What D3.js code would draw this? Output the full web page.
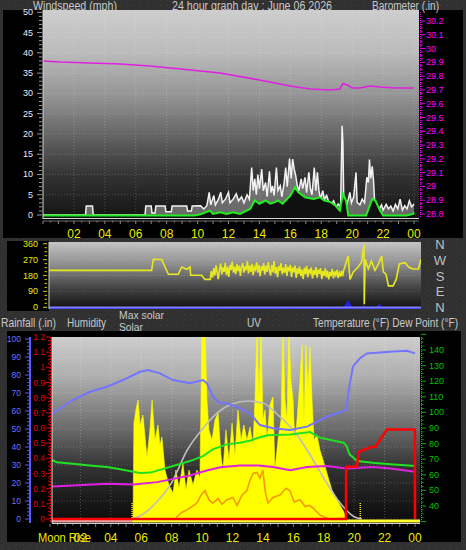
<!DOCTYPE html>
<html><head><meta charset="utf-8">
<script src="https://cdn.jsdelivr.net/npm/d3@7"></script>
<style>body{margin:0;background:#2f2f2f}svg{display:block}</style>
</head><body><svg id="c" width="466" height="550"></svg>
<script>
// ---------------- DATA ----------------
const hourLabels = ["02","04","06","08","10","12","14","16","18","20","22","00"];
const hourValues = [2,4,6,8,10,12,14,16,18,20,22,24];
const windTicks = [0,5,10,15,20,25,30,35,40,45,50];
const baroTicks = [28.8,28.9,29.0,29.1,29.2,29.3,29.4,29.5,29.6,29.7,29.8,29.9,30.0,30.1,30.2];
const baroLabels = ["28.8","28.9","29","29.1","29.2","29.3","29.4","29.5","29.6","29.7","29.8","29.9","30","30.1","30.2"];
const dirTicks = [0,90,180,270,360];
const compass = ["N","E","S","W","N"];
const humTicks = [0,10,20,30,40,50,60,70,80,90,100];
const rainTicks = [0,0.1,0.2,0.3,0.4,0.5,0.6,0.7,0.8,0.9,1,1.1,1.2];
const rainLabels = ["0","0.1","0.2","0.3","0.4","0.5","0.6","0.7","0.8","0.9","1","1.1","1.2"];
const tempTicks = [40,50,60,70,80,90,100,110,120,130,140];

// barometer (inHg) [hour, value]
const baro = [[0,29.91],[1.1,29.903],[5.0,29.888],[6.9,29.874],[8.9,29.852],[11.45,29.823],[14.0,29.772],[16.0,29.728],[17.3,29.707],[18.6,29.70],[19.2,29.707],[19.4,29.745],[19.7,29.736],[20.0,29.714],[20.5,29.714],[21.15,29.728],[21.8,29.721],[22.8,29.714],[24,29.714]];

// wind gust (mph)
const gust = [[0,0],[2.75,0],[2.8,2.2],[3.2,2.2],[3.25,0],[6.6,0],[6.65,2.2],[7.0,2.2],[7.05,0.5],[7.25,0.5],[7.3,2.2],[7.9,2.2],[7.95,0.8],[8.3,0.8],[8.35,2.2],[9.3,2.2],[9.35,1.0],[9.6,1.0],[9.65,2.2],[10.2,2.3],[10.4,1.5],[10.6,2.3],[10.75,5.6],[10.85,2.5],[11.05,4.8],[11.15,2.5],[11.35,3.9],[11.5,5.6],[11.6,3.0],[11.8,3.9],[12.0,5.6],[12.1,3.0],[12.3,3.9],[12.5,5.2],[12.65,3.5],[12.85,4.5],[13.0,3.0],[13.2,5.0],[13.35,3.9],[13.5,11.7],[13.6,6.0],[13.7,8.9],[13.8,5.0],[13.9,10.0],[14.0,6.5],[14.15,11.3],[14.25,6.0],[14.4,8.0],[14.5,4.5],[14.65,10.8],[14.75,5.5],[14.85,7.2],[14.95,4.8],[15.1,11.7],[15.2,6.0],[15.35,7.2],[15.45,4.5],[15.6,8.0],[15.7,11.7],[15.8,7.0],[15.95,13.9],[16.05,9.0],[16.15,13.8],[16.25,11.3],[16.35,9.7],[16.45,7.2],[16.55,6.0],[16.7,8.9],[16.8,6.5],[16.95,9.3],[17.05,5.5],[17.2,10.5],[17.3,6.4],[17.4,5.0],[17.55,11.7],[17.65,6.0],[17.75,10.5],[17.85,6.0],[17.95,4.0],[18.1,6.0],[18.2,3.9],[18.35,4.8],[18.5,3.0],[18.65,2.7],[18.8,3.5],[18.95,2.0],[19.1,2.7],[19.25,2.0],[19.35,22.0],[19.4,17.9],[19.45,5.0],[19.55,3.9],[19.65,2.5],[19.75,3.9],[19.85,5.6],[19.95,3.0],[20.1,4.5],[20.25,10.5],[20.32,3.1],[20.5,2.5],[20.65,3.9],[20.8,3.0],[20.95,9.3],[21.05,8.0],[21.12,13.7],[21.2,9.0],[21.3,12.0],[21.38,8.5],[21.45,3.5],[21.6,2.3],[21.75,1.5],[21.9,2.5],[22.0,1.2],[22.2,2.6],[22.35,1.5],[22.5,2.2],[22.65,1.0],[22.8,2.6],[22.95,1.5],[23.1,3.9],[23.25,1.2],[23.4,2.3],[23.55,1.5],[23.7,3.5],[23.85,2.0],[24,2.7]];

// wind average (mph)
const windAvg = [[0,0],[9.8,0],[10.2,0.3],[10.8,1.2],[11.0,0.4],[11.45,0.8],[11.9,0.4],[12.3,0.8],[12.75,0.4],[13.4,1.6],[13.7,3.7],[14.0,2.9],[14.4,3.7],[14.7,2.9],[15.0,3.3],[15.2,3.7],[15.5,2.9],[16.0,4.9],[16.3,7.0],[16.5,5.8],[16.95,4.5],[17.5,4.1],[17.9,4.5],[18.2,3.7],[18.6,3.3],[18.9,2.5],[19.2,1.2],[19.4,5.3],[19.6,3.7],[19.75,0],[20.9,0],[21.3,4.1],[21.5,3.7],[21.8,1.2],[22.0,0],[23.5,0],[23.95,0.4],[24,0.8]];

// wind direction (degrees)
const windDir = [[0,209],[6.62,209],[6.73,272],[7.27,271],[7.7,187],[8.34,187],[8.56,228],[8.88,215],[9.1,228],[9.14,181],[9.85,181],[10.06,158],[10.4,158],
[10.47,205],[10.55,168],[10.63,222],[10.7,180],[10.78,238],[10.86,190],[10.92,160],[11.0,214],[11.08,248],[11.15,186],[11.22,226],[11.3,200],[11.37,252],[11.45,182],[11.52,230],[11.6,172],[11.68,240],[11.75,212],[11.82,258],[11.9,196],[11.97,230],[12.05,188],[12.12,244],[12.2,205],[12.28,236],[12.35,178],[12.42,226],[12.5,250],[12.57,196],[12.65,232],[12.72,210],[12.8,262],[12.87,192],[12.95,238],[13.02,200],[13.1,246],[13.17,182],[13.25,228],[13.32,214],[13.4,254],[13.47,196],[13.55,240],[13.62,176],[13.7,232],[13.77,208],[13.85,250],[13.92,186],[14.0,236],[14.07,200],[14.15,256],[14.22,212],[14.3,180],[14.37,240],[14.45,198],[14.52,262],[14.6,190],[14.67,228],[14.75,170],[14.82,234],[14.9,206],[14.97,250],[15.05,188],[15.12,224],[15.2,196],[15.27,244],[15.35,178],[15.42,230],[15.5,204],[15.57,240],[15.65,172],[15.72,226],[15.8,198],[15.87,236],[15.95,166],[16.02,222],[16.1,190],[16.17,232],[16.25,176],[16.32,214],[16.4,160],[16.47,224],[16.55,188],[16.62,234],[16.7,170],[16.77,216],[16.85,196],[16.92,226],[17.0,164],[17.07,210],[17.15,184],[17.22,228],[17.3,168],[17.37,214],[17.45,190],[17.52,222],[17.6,160],[17.67,206],[17.75,178],[17.82,220],[17.9,170],[17.97,208],[18.05,158],[18.12,200],[18.2,176],[18.27,218],[18.35,164],[18.42,204],[18.5,182],[18.57,212],[18.65,166],[18.72,196],[18.8,174],[18.87,208],[18.94,176],
[19.0,205],[19.3,290],[19.42,158],[19.63,200],[19.95,228],[20.17,256],[20.32,357],[20.34,17],[20.4,272],[20.6,217],[20.8,262],[21.03,209],[21.25,245],[21.46,290],[21.57,200],[21.74,187],[21.9,121],[22.2,121],[22.4,158],[22.6,245],[22.97,253],[23.2,228],[23.5,217],[23.83,217],[24,272]];
const dirSpeed = [[0,0],[19.0,0],[19.15,4],[19.3,7],[19.45,3],[19.6,0],[20.2,0],[20.3,3],[20.4,0],[21.1,0],[21.2,2],[21.35,3],[21.5,0],[24,0]];

// bottom panel
const humidity = [[0,57.8],[1.51,66.1],[2.63,70.7],[3.75,73.5],[4.8,77.2],[5.92,81.8],[6.44,82.8],[7.23,80.9],[8.09,77.2],[9.2,75.4],[10.06,77.2],[10.32,75.4],[10.72,68],[11.18,64.3],[11.64,64.3],[12.49,61.5],[13.15,58.7],[13.8,52.2],[14.66,50.4],[15.78,49.4],[16.9,51.3],[18.2,56.8],[19.46,60.6],[19.72,75.4],[19.92,84.6],[20.38,89.3],[20.84,92],[22.35,92.9],[23.47,93.5],[24,92]];
const temperature = [[0,69.9],[0.46,68.1],[1.5,67.1],[2.6,66],[3.75,65],[4.8,63.2],[5.9,61.1],[6.6,61.4],[8.1,65.6],[9.2,68.8],[10.06,72],[10.7,76.3],[11.6,79.5],[12.5,80.6],[13.2,82],[13.7,83.8],[14.3,85.3],[15.8,85.9],[17.1,87.4],[17.75,83.8],[19.3,80.6],[19.5,78.4],[19.7,73.1],[20.2,68.8],[21.2,67.7],[22.4,66.7],[24,65.6]];
const dewPoint = [[0,52.4],[1.5,53.2],[3.75,54.3],[5.5,53.8],[7.05,55.3],[8.1,57.4],[9.2,59.6],[10.3,62.8],[11.2,64.9],[12.5,66],[13.7,66],[14.66,65],[15.8,63],[16.9,65],[18.2,65.6],[19.5,64.1],[21.2,65],[22.4,64.1],[24,62]];
const rainfall = [[0,0],[19.46,0],[19.47,0.344],[20.18,0.344],[20.3,0.443],[20.7,0.46],[21.2,0.476],[21.4,0.476],[22.15,0.59],[23.99,0.59],[24,0]];
const maxSolar = [[5.4,0],[6,25],[7,110],[8,240],[9,450],[10,590],[11,700],[12,760],[13,778],[14,765],[15,685],[16,585],[17,440],[18,270],[19,115],[20,15],[20.5,0]];
const solar = [[5.46,0],[5.52,633],[5.65,719],[5.79,785],[5.92,620],[6.11,686],[6.38,409],[6.57,587],[6.71,785],[6.9,521],[7.1,620],[7.23,488],[7.36,541],[7.56,323],[7.82,224],[8.09,171],[8.28,323],[8.48,204],[8.74,369],[8.94,191],[9.14,323],[9.4,224],[9.66,323],[9.86,270],[9.99,1250],[10.19,1250],[10.32,785],[10.45,587],[10.65,521],[10.85,653],[11.05,699],[11.24,422],[11.37,323],[11.57,587],[11.77,389],[11.97,633],[12.16,422],[12.36,719],[12.56,521],[12.75,620],[12.95,521],[13.15,607],[13.35,488],[13.48,785],[13.61,1250],[13.74,790],[13.87,1250],[14.0,653],[14.14,719],[14.27,521],[14.46,752],[14.66,804],[14.79,323],[14.99,521],[15.19,653],[15.32,1250],[15.45,785],[15.58,653],[15.71,1250],[15.84,916],[15.98,785],[16.1,521],[16.24,653],[16.44,916],[16.57,1147],[16.7,653],[16.83,1147],[16.96,850],[17.09,1134],[17.23,785],[17.36,521],[17.55,554],[17.75,455],[17.95,389],[18.15,323],[18.34,257],[18.54,191],[18.8,138],[19.07,92],[19.33,46],[19.46,0]];
const uv = [[8.28,0],[8.35,0.2],[8.68,0.6],[9.0,0.8],[9.34,1.1],[9.66,1.4],[9.93,2.1],[10.19,2.5],[10.45,1.7],[10.7,1.4],[11.05,1.8],[11.3,1.3],[11.64,1.7],[12.03,1.9],[12.3,1.2],[12.62,2.1],[12.95,2.5],[13.15,3.4],[13.35,4.0],[13.61,4.1],[13.8,3.6],[14.0,4.3],[14.14,2.5],[14.33,1.4],[14.66,1.9],[15.12,2.1],[15.52,2.7],[15.78,2.5],[16.04,1.5],[16.44,1.7],[16.77,1.1],[17.09,1.2],[17.42,0.8],[17.75,0.35],[18.15,0.1],[18.4,0]];
const sunEvents = [5.4, 20.4];

// ---------------- DRAW ----------------
const svg = d3.select("#c");
const defs = svg.append("defs");
const pat = defs.append("pattern").attr("id","noise").attr("width",7).attr("height",5).attr("patternUnits","userSpaceOnUse");
pat.append("rect").attr("width",7).attr("height",5).attr("fill","#303030");
[[1,1,"#3c3838"],[4,3,"#35353f"],[6,0,"#383e38"],[2,4,"#3d3d3d"]].forEach(p=>pat.append("rect").attr("x",p[0]).attr("y",p[1]).attr("width",1).attr("height",1).attr("fill",p[2]));
function grad(id, stops){
  const g = defs.append("linearGradient").attr("id",id).attr("x1",0).attr("x2",0).attr("y1",0).attr("y2",1);
  stops.forEach(s=>g.append("stop").attr("offset",s[0]).attr("stop-color",s[1]));
}
grad("gTop",[[0,"#cdcdcd"],[0.2,"#bcbcbc"],[0.42,"#939393"],[0.62,"#606060"],[0.8,"#323232"],[1,"#141414"]]);
grad("gDir",[[0,"#c4c4c4"],[0.35,"#8c8c8c"],[0.65,"#4a4a4a"],[1,"#101010"]]);
grad("gBot",[[0,"#cdcdcd"],[0.22,"#adadad"],[0.48,"#6e6e6e"],[0.7,"#333333"],[0.9,"#161616"],[1,"#0c0c0c"]]);

svg.append("rect").attr("width",466).attr("height",550).attr("fill","url(#noise)");
svg.append("rect").attr("x",3).attr("y",10).attr("width",460).attr("height",228).attr("fill","#000");
svg.append("rect").attr("x",7).attr("y",241).attr("width",42).attr("height",70).attr("fill","#000");
svg.append("rect").attr("x",7).attr("y",331).attr("width",454).attr("height",211).attr("fill","#000");

const font = "'Liberation Sans', Arial, sans-serif";
function txt(x,y,s,o={}){
  const t = svg.append("text").attr("x",x).attr("y",y).text(s)
    .attr("font-family",font).attr("font-size",o.size||12).attr("fill",o.fill||"#c8c8c8")
    .attr("text-anchor",o.anchor||"start");
  if(o.len) t.attr("textLength",o.len).attr("lengthAdjust","spacingAndGlyphs");
  return t;
}
txt(33,9.5,"Windspeed (mph)",{size:12.5,len:84});
txt(172,9.5,"24 hour graph day : June 06 2026",{size:12.5,len:160});
txt(372,9.5,"Barometer (.in)",{size:12.5,len:67});

// ======== TOP PANEL ========
const xTop = d3.scaleLinear([0,24],[43,414]);
const yWind = d3.scaleLinear([0,50],[215,12.3]);
const yBaro = d3.scaleLinear([28.8,30.2],[214,21]);
defs.append("clipPath").attr("id","clipTop").append("rect").attr("x",43).attr("y",10).attr("width",376).attr("height",208);
svg.append("rect").attr("x",43).attr("y",10).attr("width",376).attr("height",208).attr("fill","url(#gTop)");
const gTop = svg.append("g").attr("clip-path","url(#clipTop)");
windTicks.forEach(v=>gTop.append("line").attr("x1",43).attr("x2",419).attr("y1",yWind(v)).attr("y2",yWind(v)).attr("stroke","rgba(255,255,255,0.18)").attr("stroke-dasharray","1,2"));
hourValues.forEach(h=>gTop.append("line").attr("x1",xTop(h)).attr("x2",xTop(h)).attr("y1",10).attr("y2",218).attr("stroke","rgba(255,255,255,0.2)").attr("stroke-dasharray","1,2"));
gTop.append("path").datum(gust).attr("d",d3.area().x(d=>xTop(d[0])).y0(yWind(0)).y1(d=>yWind(d[1])))
  .attr("fill","rgba(205,205,205,0.45)");
gTop.append("path").datum(gust).attr("d",d3.line().x(d=>xTop(d[0])).y(d=>yWind(d[1])))
  .attr("fill","none").attr("stroke","#f2f2f2").attr("stroke-width",1.5);
gTop.append("path").datum(windAvg).attr("d",d3.area().x(d=>xTop(d[0])).y0(218).y1(d=>yWind(d[1])))
  .attr("fill","#101010");
gTop.append("path").datum(windAvg).attr("d",d3.line().x(d=>xTop(d[0])).y(d=>yWind(d[1])+0.5))
  .attr("fill","none").attr("stroke","#22ee22").attr("stroke-width",2);
gTop.append("path").datum(baro).attr("d",d3.line().x(d=>xTop(d[0])).y(d=>yBaro(d[1])))
  .attr("fill","none").attr("stroke","#e020e0").attr("stroke-width",1.6);
svg.append("line").attr("x1",43).attr("x2",43).attr("y1",10).attr("y2",219).attr("stroke","#d8d8d8");
svg.append("line").attr("x1",43).attr("x2",419).attr("y1",218.5).attr("y2",218.5).attr("stroke","#d8d8d8");
for(let v=0; v<=50; v++){
  const major = v%5===0;
  svg.append("line").attr("x1",major?37:39).attr("x2",42).attr("y1",yWind(v)).attr("y2",yWind(v)).attr("stroke","#9a9a9a");
}
windTicks.forEach(v=>txt(33,yWind(v)+3,String(v),{size:9,fill:"#e4ecff",anchor:"end"}));
svg.append("line").attr("x1",420.5).attr("x2",420.5).attr("y1",12).attr("y2",218).attr("stroke","#e000e0").attr("stroke-dasharray","1,1");
for(let i=0;i<=56;i++){
  const v = 28.8 + i*0.025;
  const major = i%4===0;
  svg.append("line").attr("x1",420).attr("x2",major?425:422.5).attr("y1",yBaro(v)).attr("y2",yBaro(v)).attr("stroke","#e000e0");
}
baroTicks.forEach((v,i)=>txt(426,yBaro(v)+3,baroLabels[i],{size:9,fill:"#ff00ff"}));
svg.append("line").attr("x1",43).attr("x2",419).attr("y1",221).attr("y2",221).attr("stroke","#707070");
for(let i=0;i<=48;i++){
  svg.append("line").attr("x1",xTop(i/2)).attr("x2",xTop(i/2)).attr("y1",221).attr("y2",i%2===0?224:222.5).attr("stroke","#8a8a8a");
}
hourValues.forEach((h,i)=>txt(xTop(h),238,hourLabels[i],{size:12,fill:"#ecec00",anchor:"middle"}));

// ======== DIRECTION PANEL ========
const xDir = d3.scaleLinear([0,24],[49,421]);
const yDir = d3.scaleLinear([0,360],[307.3,243.7]);
defs.append("clipPath").attr("id","clipDir").append("rect").attr("x",49).attr("y",242).attr("width",372).attr("height",67);
svg.append("rect").attr("x",49).attr("y",242).attr("width",372).attr("height",67).attr("fill","url(#gDir)");
const gDir = svg.append("g").attr("clip-path","url(#clipDir)");
dirTicks.forEach(v=>gDir.append("line").attr("x1",49).attr("x2",421).attr("y1",yDir(v)).attr("y2",yDir(v)).attr("stroke","rgba(255,255,255,0.15)").attr("stroke-dasharray","1,2"));
gDir.append("path").datum(dirSpeed).attr("d",d3.area().x(d=>xDir(d[0])).y0(309).y1(d=>yDir(0)-d[1]))
  .attr("fill","#2020e0");
gDir.append("line").attr("x1",49).attr("x2",421).attr("y1",307.5).attr("y2",307.5).attr("stroke","#8080ff").attr("stroke-width",2);
gDir.append("path").datum(windDir).attr("d",d3.line().x(d=>xDir(d[0])).y(d=>yDir(d[1])))
  .attr("fill","none").attr("stroke","#e8e820").attr("stroke-width",1.6);
svg.append("line").attr("x1",49).attr("x2",49).attr("y1",242).attr("y2",309).attr("stroke","#d0d0d0");
for(let i=0;i<=16;i++){
  const v=i*22.5;
  svg.append("line").attr("x1",i%4===0?43:44.5).attr("x2",47).attr("y1",yDir(v)).attr("y2",yDir(v)).attr("stroke","#b0b000").attr("stroke-width",1.2);
}
dirTicks.forEach(v=>txt(38,yDir(v)+3,String(v),{size:9,fill:"#e8e800",anchor:"end"}));
dirTicks.forEach((v,i)=>txt(440,yDir(v)+5,compass[i],{size:13,fill:"#c0c0c0",anchor:"middle"}));

// ======== LEGEND ROW ========
txt(1,327,"Rainfall (.in)",{size:12,len:55});
txt(67,327,"Humidity",{size:12,len:39});
txt(119,319,"Max solar",{size:11.5,len:45});
txt(119,331,"Solar",{size:11.5,len:24});
txt(247,327,"UV",{size:12,len:14});
txt(313,327,"Temperature (°F) Dew Point (°F)",{size:12,len:145});

// ======== BOTTOM PANEL ========
const xBot = d3.scaleLinear([0,24],[50,415]);
const yHum = d3.scaleLinear([0,100],[519,339]);
const yRain = d3.scaleLinear([0,1.2],[519,337]);
const yTemp = d3.scaleLinear([40,140],[506,350]);
const ySolar = d3.scaleLinear([0,1200],[519,337]);
const yUV = d3.scaleLinear([0,16],[519,337]);
defs.append("clipPath").attr("id","clipBot").append("rect").attr("x",52).attr("y",337).attr("width",368).attr("height",186);
svg.append("rect").attr("x",52).attr("y",337).attr("width",368).attr("height",186).attr("fill","url(#gBot)");
const gBot = svg.append("g").attr("clip-path","url(#clipBot)");
humTicks.forEach(v=>gBot.append("line").attr("x1",52).attr("x2",420).attr("y1",yHum(v)).attr("y2",yHum(v)).attr("stroke","rgba(255,255,255,0.2)").attr("stroke-dasharray","1,2"));
hourValues.forEach(h=>gBot.append("line").attr("x1",xBot(h)).attr("x2",xBot(h)).attr("y1",337).attr("y2",519).attr("stroke","rgba(255,255,255,0.25)").attr("stroke-dasharray","1,2"));
gBot.append("path").datum(solar).attr("d",d3.area().x(d=>xBot(d[0])).y0(ySolar(0)).y1(d=>ySolar(d[1])))
  .attr("fill","#ffff00").attr("stroke","#ffff00").attr("stroke-width",0.6);
gBot.append("path").datum(uv).attr("d",d3.line().x(d=>xBot(d[0])).y(d=>yUV(d[1])))
  .attr("fill","none").attr("stroke","#f59a00").attr("stroke-width",1.6);
gBot.append("path").datum(maxSolar).attr("d",d3.line().curve(d3.curveMonotoneX).x(d=>xBot(d[0])).y(d=>ySolar(d[1])))
  .attr("fill","none").attr("stroke","#bdbdbd").attr("stroke-width",1.6);
gBot.append("path").datum(humidity).attr("d",d3.line().x(d=>xBot(d[0])).y(d=>yHum(d[1])))
  .attr("fill","none").attr("stroke","#7474ff").attr("stroke-width",2);
gBot.append("path").datum(dewPoint).attr("d",d3.line().x(d=>xBot(d[0])).y(d=>yTemp(d[1])))
  .attr("fill","none").attr("stroke","#e020e0").attr("stroke-width",2);
gBot.append("path").datum(temperature).attr("d",d3.line().x(d=>xBot(d[0])).y(d=>yTemp(d[1])))
  .attr("fill","none").attr("stroke","#22e022").attr("stroke-width",2);
gBot.append("rect").attr("x",xBot(0)).attr("y",519.5).attr("width",xBot(sunEvents[0])-xBot(0)).attr("height",3).attr("fill","#e8a0a0");
gBot.append("rect").attr("x",xBot(sunEvents[0])).attr("y",519.5).attr("width",xBot(24)-xBot(sunEvents[0])+5).attr("height",3).attr("fill","#ffff30");
sunEvents.forEach(h=>gBot.append("line").attr("x1",xBot(h)).attr("x2",xBot(h)).attr("y1",503).attr("y2",519).attr("stroke","#ffe000").attr("stroke-dasharray","1,1").attr("stroke-width",1.5));
gBot.append("path").datum(rainfall).attr("d",d3.line().x(d=>xBot(d[0])).y(d=>yRain(d[1])))
  .attr("fill","none").attr("stroke","#ff0000").attr("stroke-width",2.5);
svg.append("line").attr("x1",52).attr("x2",52).attr("y1",337).attr("y2",523).attr("stroke","#e0e0e0");
svg.append("line").attr("x1",52).attr("x2",420).attr("y1",523.5).attr("y2",523.5).attr("stroke","#d0d0d0");
svg.append("line").attr("x1",30).attr("x2",30).attr("y1",337).attr("y2",523).attr("stroke","#5a5aff").attr("stroke-width",2);
for(let v=0; v<=100; v+=2){
  svg.append("line").attr("x1",v%10===0?25:27).attr("x2",30).attr("y1",yHum(v)).attr("y2",yHum(v)).attr("stroke","#5a5aff");
}
humTicks.forEach(v=>txt(21,yHum(v)+3,String(v),{size:8.5,fill:"#7070ff",anchor:"end"}));
svg.append("line").attr("x1",50.5).attr("x2",50.5).attr("y1",337).attr("y2",523).attr("stroke","#e00000").attr("stroke-dasharray","2,1").attr("stroke-width",1.5);
for(let i=0;i<=48;i++){
  const v=i*0.025;
  svg.append("line").attr("x1",i%4===0?46:48).attr("x2",50).attr("y1",yRain(v)).attr("y2",yRain(v)).attr("stroke","#e00000");
}
rainTicks.forEach((v,i)=>txt(45,yRain(v)+3,rainLabels[i],{size:8.5,fill:"#e00000",anchor:"end"}));
svg.append("line").attr("x1",421.5).attr("x2",421.5).attr("y1",337).attr("y2",523).attr("stroke","#00c000").attr("stroke-dasharray","1,1");
for(let v=30; v<=150; v+=2.5){
  svg.append("line").attr("x1",421).attr("x2",v%10===0?426:423.5).attr("y1",yTemp(v)).attr("y2",yTemp(v)).attr("stroke","#00b000");
}
tempTicks.forEach(v=>txt(429,yTemp(v)+3,String(v),{size:9,fill:"#00c000"}));
for(let i=0;i<=48;i++){
  svg.append("line").attr("x1",xBot(i/2)).attr("x2",xBot(i/2)).attr("y1",524).attr("y2",i%2===0?527:525.5).attr("stroke","#7a7a7a");
}
hourValues.forEach((h,i)=>txt(xBot(h),542,hourLabels[i],{size:12,fill:"#ecec00",anchor:"middle"}));
txt(38,542,"Moon Rise",{size:12,fill:"#ecec00",len:53});
</script></body></html>
